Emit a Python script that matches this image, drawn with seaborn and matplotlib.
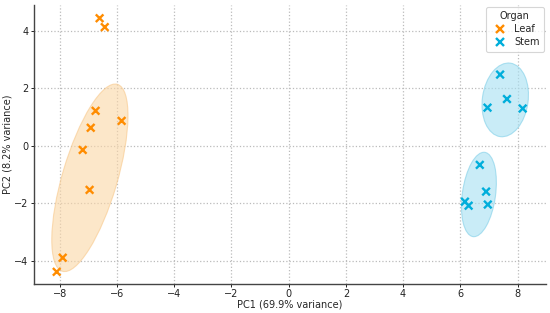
import matplotlib
matplotlib.use("Agg")
import matplotlib.pyplot as plt
from matplotlib.patches import Ellipse
import seaborn as sns
import pandas as pd

# Data
leaf_pc1 = [-6.61, -6.43, -6.75, -5.84, -6.92, -7.20, -6.96, -7.90, -8.11]
leaf_pc2 = [4.44, 4.13, 1.22, 0.87, 0.63, -0.14, -1.53, -3.89, -4.38]
stem_pc1 = [7.39, 7.63, 6.95, 8.18, 6.68, 6.90, 6.16, 6.29, 6.96]
stem_pc2 = [2.48, 1.63, 1.33, 1.30, -0.66, -1.59, -1.94, -2.08, -2.04]

organs = ["Leaf", "Stem"]
palette = {"Leaf": "#FF8C00", "Stem": "#00AEDB"}

# Group ellipses (centre, major axis, minor axis, angle in degrees)
ell_group = ["Leaf", "Stem", "Stem"]
ell_cx = [-6.95, 7.57, 6.65]
ell_cy = [-1.11, 1.60, -1.69]
ell_major = [6.78, 2.58, 2.96]
ell_minor = [1.92, 1.60, 1.16]
ell_angle = [73.5, 82.0, 82.0]
ell_face = {"Leaf": "#FBD7A6", "Stem": "#A6E0F2"}
ell_edge = {"Leaf": "#F8C88A", "Stem": "#7FCFE8"}

df = pd.DataFrame({
    "PC1": leaf_pc1 + stem_pc1,
    "PC2": leaf_pc2 + stem_pc2,
    "Organ": ["Leaf"] * len(leaf_pc1) + ["Stem"] * len(stem_pc1),
})

sns.set_style("white")
plt.rcParams["font.family"] = ["DejaVu Sans"]

fig = plt.figure(figsize=(5.5, 3.13), dpi=100)
ax = fig.add_axes([0.062, 0.093, 0.931, 0.891])

for g, cx, cy, w, h, a in zip(ell_group, ell_cx, ell_cy, ell_major, ell_minor, ell_angle):
    e = Ellipse((cx, cy), width=w, height=h, angle=a,
                facecolor=ell_face[g], edgecolor=ell_edge[g], alpha=0.6,
                linewidth=0.8, zorder=1)
    ax.add_patch(e)

sns.scatterplot(data=df, x="PC1", y="PC2", hue="Organ", hue_order=organs,
                palette=palette, marker="x", s=30, linewidth=1.7, ax=ax, zorder=3)

ax.set_xlim(-8.9, 9.0)
ax.set_ylim(-4.8, 4.9)
ax.set_xticks([-8, -6, -4, -2, 0, 2, 4, 6, 8])
ax.set_yticks([-4, -2, 0, 2, 4])
ax.grid(True, linestyle=":", color="#BBBBBB", linewidth=0.9, zorder=0)
ax.set_axisbelow(True)
for s in ["top", "right"]:
    ax.spines[s].set_visible(False)
for s in ["left", "bottom"]:
    ax.spines[s].set_color("#444444")
    ax.spines[s].set_linewidth(1.0)
ax.tick_params(axis="both", labelsize=7, colors="#222222", length=2, width=0.7,
               pad=2, direction="out", left=True, bottom=True)
ax.set_xlabel("PC1 (69.9% variance)", fontsize=7, labelpad=0)
ax.set_ylabel("PC2 (8.2% variance)", fontsize=7, labelpad=1)

leg = ax.legend(title="Organ", loc="upper right", fontsize=7, title_fontsize=7,
                frameon=True, borderpad=0.45, handletextpad=0.5, labelspacing=0.3,
                borderaxespad=0.2, bbox_to_anchor=(1.0, 1.0))
leg.get_frame().set_edgecolor("#CCCCCC")
leg.get_frame().set_linewidth(0.8)

fig.savefig("out.png", dpi=100)
